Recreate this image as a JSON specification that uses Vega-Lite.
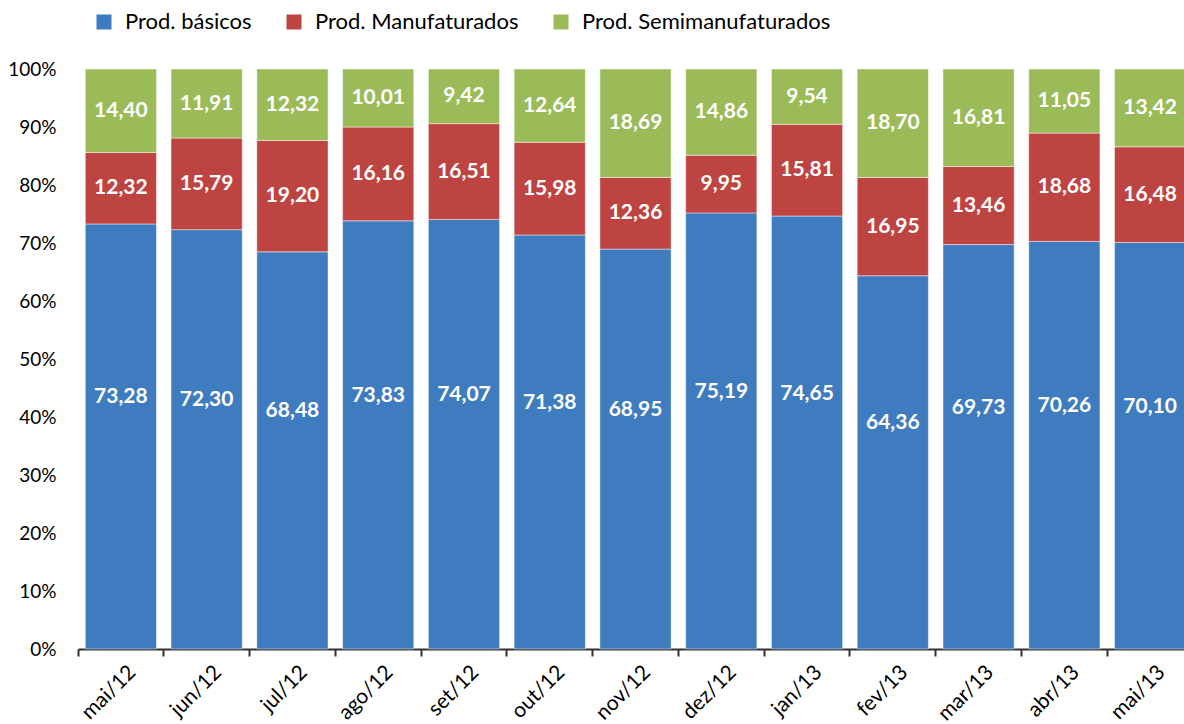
{
  "$schema": "https://vega.github.io/schema/vega-lite/v6.json",
  "width": 1115,
  "height": 580,
  "autosize": {"type": "none"},
  "padding": {"left": 78, "top": 69, "right": 0, "bottom": 75},
  "background": "white",
  "config": {"view": {"stroke": null}, "font": "Lato"},
  "data": {"values": [
    {"mes": "mai/12", "serie": "Prod. básicos", "valor": 73.28},
    {"mes": "mai/12", "serie": "Prod. Manufaturados", "valor": 12.32},
    {"mes": "mai/12", "serie": "Prod. Semimanufaturados", "valor": 14.40},
    {"mes": "jun/12", "serie": "Prod. básicos", "valor": 72.30},
    {"mes": "jun/12", "serie": "Prod. Manufaturados", "valor": 15.79},
    {"mes": "jun/12", "serie": "Prod. Semimanufaturados", "valor": 11.91},
    {"mes": "jul/12", "serie": "Prod. básicos", "valor": 68.48},
    {"mes": "jul/12", "serie": "Prod. Manufaturados", "valor": 19.20},
    {"mes": "jul/12", "serie": "Prod. Semimanufaturados", "valor": 12.32},
    {"mes": "ago/12", "serie": "Prod. básicos", "valor": 73.83},
    {"mes": "ago/12", "serie": "Prod. Manufaturados", "valor": 16.16},
    {"mes": "ago/12", "serie": "Prod. Semimanufaturados", "valor": 10.01},
    {"mes": "set/12", "serie": "Prod. básicos", "valor": 74.07},
    {"mes": "set/12", "serie": "Prod. Manufaturados", "valor": 16.51},
    {"mes": "set/12", "serie": "Prod. Semimanufaturados", "valor": 9.42},
    {"mes": "out/12", "serie": "Prod. básicos", "valor": 71.38},
    {"mes": "out/12", "serie": "Prod. Manufaturados", "valor": 15.98},
    {"mes": "out/12", "serie": "Prod. Semimanufaturados", "valor": 12.64},
    {"mes": "nov/12", "serie": "Prod. básicos", "valor": 68.95},
    {"mes": "nov/12", "serie": "Prod. Manufaturados", "valor": 12.36},
    {"mes": "nov/12", "serie": "Prod. Semimanufaturados", "valor": 18.69},
    {"mes": "dez/12", "serie": "Prod. básicos", "valor": 75.19},
    {"mes": "dez/12", "serie": "Prod. Manufaturados", "valor": 9.95},
    {"mes": "dez/12", "serie": "Prod. Semimanufaturados", "valor": 14.86},
    {"mes": "jan/13", "serie": "Prod. básicos", "valor": 74.65},
    {"mes": "jan/13", "serie": "Prod. Manufaturados", "valor": 15.81},
    {"mes": "jan/13", "serie": "Prod. Semimanufaturados", "valor": 9.54},
    {"mes": "fev/13", "serie": "Prod. básicos", "valor": 64.36},
    {"mes": "fev/13", "serie": "Prod. Manufaturados", "valor": 16.95},
    {"mes": "fev/13", "serie": "Prod. Semimanufaturados", "valor": 18.70},
    {"mes": "mar/13", "serie": "Prod. básicos", "valor": 69.73},
    {"mes": "mar/13", "serie": "Prod. Manufaturados", "valor": 13.46},
    {"mes": "mar/13", "serie": "Prod. Semimanufaturados", "valor": 16.81},
    {"mes": "abr/13", "serie": "Prod. básicos", "valor": 70.26},
    {"mes": "abr/13", "serie": "Prod. Manufaturados", "valor": 18.68},
    {"mes": "abr/13", "serie": "Prod. Semimanufaturados", "valor": 11.05},
    {"mes": "mai/13", "serie": "Prod. básicos", "valor": 70.10},
    {"mes": "mai/13", "serie": "Prod. Manufaturados", "valor": 16.48},
    {"mes": "mai/13", "serie": "Prod. Semimanufaturados", "valor": 13.42}
  ]},
  "transform": [
    {"calculate": "indexof(['Prod. básicos','Prod. Manufaturados','Prod. Semimanufaturados'], datum.serie)", "as": "ord"},
    {"stack": "valor", "groupby": ["mes"], "sort": [{"field": "ord", "order": "ascending"}], "offset": "normalize", "as": ["y0", "y1"]},
    {"calculate": "(datum.y0 + datum.y1) / 2", "as": "ymid"},
    {"calculate": "replace(format(datum.valor, '.2f'), '.', ',')", "as": "rotulo"}
  ],
  "encoding": {
    "x": {
      "field": "mes", "type": "nominal", "sort": null, "title": null,
      "scale": {"paddingInner": 0.17, "paddingOuter": 0.085},
      "axis": {
        "bandPosition": -0.1024,
        "domainColor": "#333333", "domainWidth": 2,
        "tickColor": "#333333", "tickWidth": 2, "tickSize": 7,
        "labelAngle": -45, "labelAlign": "right", "labelBaseline": "top",
        "labelFontSize": 21, "labelColor": "#000000", "labelPadding": 5, "labelOffset": 4,
        "grid": false
      }
    }
  },
  "layer": [
    {
      "mark": {"type": "bar", "stroke": "#ffffff", "strokeOpacity": 0.45, "strokeWidth": 1},
      "encoding": {
        "y": {
          "field": "y0", "type": "quantitative", "title": null,
          "scale": {"domain": [0, 1], "nice": false},
          "axis": {
            "values": [0, 0.1, 0.2, 0.3, 0.4, 0.5, 0.6, 0.7, 0.8, 0.9, 1],
            "format": ".0%", "domain": false, "ticks": false, "grid": false,
            "labelFontSize": 19, "labelColor": "#000000", "labelPadding": 22
          }
        },
        "y2": {"field": "y1"},
        "color": {
          "field": "serie", "type": "nominal",
          "scale": {
            "domain": ["Prod. básicos", "Prod. Manufaturados", "Prod. Semimanufaturados"],
            "range": ["#3F7BBF", "#BE4441", "#9BBB59"]
          },
          "legend": {
            "title": null, "orient": "none", "legendX": 15, "legendY": -58,
            "direction": "horizontal", "symbolType": "square", "symbolSize": 225,
            "symbolStrokeWidth": 0, "symbolOpacity": 1,
            "labelFontSize": 22, "labelColor": "#000000", "labelOffset": 10, "labelLimit": 0,
            "columnPadding": 31
          }
        }
      }
    },
    {
      "transform": [{"filter": "datum.ord == 0"}],
      "mark": {"type": "text", "dy": -39, "color": "white", "fontWeight": "bold", "fontSize": 21},
      "encoding": {
        "y": {"field": "ymid", "type": "quantitative"},
        "text": {"field": "rotulo"}
      }
    },
    {
      "transform": [{"filter": "datum.ord > 0"}],
      "mark": {"type": "text", "color": "white", "fontWeight": "bold", "fontSize": 21},
      "encoding": {
        "y": {"field": "ymid", "type": "quantitative"},
        "text": {"field": "rotulo"}
      }
    }
  ]
}
